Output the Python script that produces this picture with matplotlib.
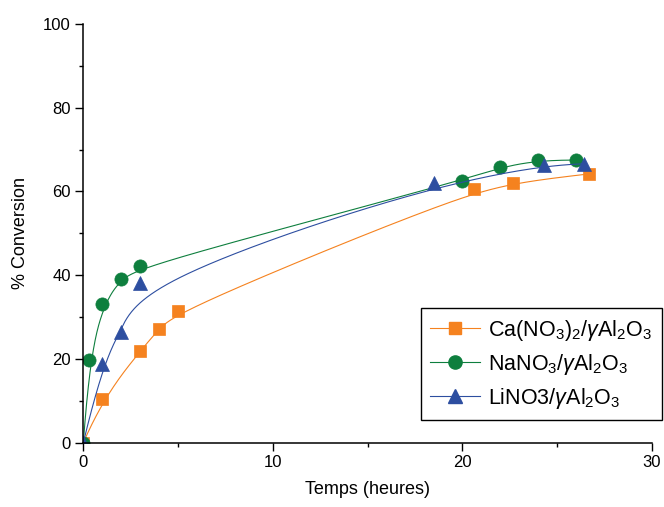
import matplotlib
matplotlib.use('Agg')
import numpy as np
from matplotlib import pyplot as plt

matplotlib.rcParams['font.family'] = 'Liberation Sans'
matplotlib.rcParams['mathtext.fontset'] = 'custom'
matplotlib.rcParams['mathtext.rm'] = 'Liberation Sans'
matplotlib.rcParams['mathtext.it'] = 'Liberation Sans:italic'

# data
ca_t = [0, 1, 3, 4, 5, 20.6, 22.7, 26.7]
ca_conv = [0, 10.4, 21.9, 27.2, 31.5, 60.5, 62.1, 64.2]

na_t = [0, 0.32, 1, 2, 3, 20.0, 22.0, 24.0, 26.0]
na_conv = [0, 19.8, 33.1, 39.0, 42.1, 62.6, 65.8, 67.5, 67.5]

li_t = [0, 1, 2, 3, 18.5, 24.3, 26.4]
li_conv = [0, 18.8, 26.4, 38.1, 62.1, 66.3, 66.6]

labels = [r'Ca(NO$_3$)$_2$/$\gamma$Al$_2$O$_3$',
          r'NaNO$_3$/$\gamma$Al$_2$O$_3$',
          r'LiNO3/$\gamma$Al$_2$O$_3$']
colors = ['#F5821F', '#0E7F3E', '#2D4EA0']
markers = ['s', 'o', '^']
msizes = [8, 9.5, 10.5]


def bspline(px, py, k=3, n=400):
    # clamped uniform cubic B-spline using the points as control points
    px, py = np.asarray(px, float), np.asarray(py, float)
    m = len(px)
    knots = np.concatenate([np.zeros(k), np.linspace(0, 1, m - k + 1), np.ones(k)])
    t = np.linspace(0, 1, n)
    t[-1] -= 1e-10
    N = np.array([((knots[i] <= t) & (t < knots[i + 1])).astype(float)
                  for i in range(len(knots) - 1)])
    for p in range(1, k + 1):
        Nn = np.zeros((len(knots) - 1 - p, n))
        for i in range(len(knots) - 1 - p):
            d1 = knots[i + p] - knots[i]
            d2 = knots[i + p + 1] - knots[i + 1]
            a = (t - knots[i]) / d1 * N[i] if d1 > 0 else 0
            b = (knots[i + p + 1] - t) / d2 * N[i + 1] if d2 > 0 else 0
            Nn[i] = a + b
        N = Nn
    return N.T @ px, N.T @ py


fig = plt.figure(figsize=(6.64, 5.07), dpi=100)
ax = fig.add_axes([0.1255, 0.1268, 0.856, 0.8259])

series = [(ca_t, ca_conv), (na_t, na_conv), (li_t, li_conv)]
for (t, c), lab, col, mk, ms in zip(series, labels, colors, markers, msizes):
    sx, sy = bspline(t, c)
    ax.plot(sx, sy, '-', color=col, linewidth=0.8)
    ax.plot(t, c, linestyle='none', marker=mk, markersize=ms, color=col,
            markeredgecolor=col, markeredgewidth=0.5)
    ax.plot([], [], '-', color=col, linewidth=0.8, marker=mk, markersize=ms,
            markeredgecolor=col, label=lab)

ax.set_xlim(0, 30)
ax.set_ylim(0, 100)
ax.set_xticks([0, 10, 20, 30])
ax.set_xticks([5, 15, 25], minor=True)
ax.set_yticks([0, 20, 40, 60, 80, 100])
ax.set_yticks([10, 30, 50, 70, 90], minor=True)
ax.tick_params(which='major', direction='out', length=6, width=1, labelsize=12, pad=3)
ax.tick_params(which='minor', direction='out', length=3, width=1)

ax.spines['top'].set_visible(False)
ax.spines['right'].set_visible(False)
ax.spines['left'].set_linewidth(1.1)
ax.spines['bottom'].set_linewidth(1.1)

ax.set_xlabel('Temps (heures)', fontsize=13, labelpad=8)
ax.set_ylabel('% Conversion', fontsize=13, labelpad=10)

leg = ax.legend(loc='upper right', bbox_to_anchor=(0.997, 0.3925),
                bbox_transform=fig.transFigure, borderaxespad=0,
                fontsize=15.5, handlelength=2.3, fancybox=False, framealpha=1,
                edgecolor='black', labelspacing=0.42, borderpad=0.45,
                handletextpad=0.4)
leg.get_frame().set_linewidth(1.0)

plt.savefig('out.png', dpi=100)
plt.close()
